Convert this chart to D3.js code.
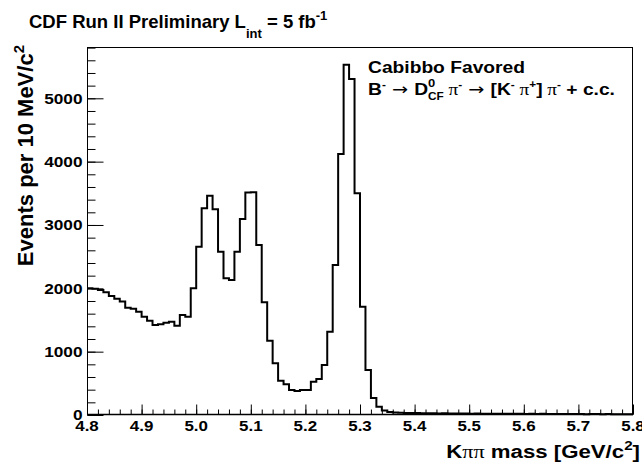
<!DOCTYPE html>
<html><head><meta charset="utf-8">
<script src="https://cdn.jsdelivr.net/npm/d3@7"></script>
<style>
html,body{margin:0;padding:0;background:#fff;}
svg{display:block;}
text{font-family:"Liberation Sans",Arial,Helvetica,sans-serif;font-weight:bold;fill:#000;}
.sym{font-family:"Liberation Serif","DejaVu Serif",serif;font-weight:normal;}
.arr{font-family:"DejaVu Sans",sans-serif;font-weight:normal;}
</style></head>
<body>
<script>
// ---- data ----
const massStart = 4.8;      // GeV/c^2, lower edge of first bin
const binWidth = 0.01;      // 10 MeV/c^2
const counts = [
  2000,1992,1974,1937,1879,1837,1790,1695,1679,1632,
  1553,1490,1421,1432,1458,1474,1411,1579,1553,2000,
  2658,3263,3463,3248,2579,2158,2132,2579,3095,3511,
  3516,2684,1779,1174,816,542,484,395,379,395,
  395,526,568,790,1316,2368,4121,5530,5305,3500,
  1711,711,270,131,70,46,40,35,33,31,
  30,28,29,26,25,27,24,23,25,22,
  21,23,20,21,19,20,18,21,19,18,
  17,19,16,18,17,15,17,16,14,16,
  15,13,15,14,13,14,12,13,12,11
];
const xTickLabels = [4.8,4.9,5.0,5.1,5.2,5.3,5.4,5.5,5.6,5.7,5.8];
const yTickLabels = [0,1000,2000,3000,4000,5000];
const xDomain = [4.8,5.8];
const yDomain = [0,5810];

// ---- drawing ----
const W=642,H=464;
const svg=d3.select("body").append("svg").attr("width",W).attr("height",H);
svg.append("rect").attr("width",W).attr("height",H).attr("fill","#fff");

const x=d3.scaleLinear().domain(xDomain).range([87,633]);
const y=d3.scaleLinear().domain(yDomain).range([415,47]);

// frame
svg.append("rect").attr("x",x(xDomain[0])+0.5).attr("y",y(yDomain[1])+0.5)
  .attr("width",x(xDomain[1])-x(xDomain[0])-1).attr("height",y(0)-y(yDomain[1])-1)
  .attr("fill","none").attr("stroke","#000").attr("stroke-width",1);

// ticks
const xMinor=d3.range(0,51).map(i=>+(xDomain[0]+i*0.02).toFixed(2));
const yMinor=d3.range(0,30).map(i=>i*200).filter(v=>v<=yDomain[1]);
function tickAxis(axis,vals,size,tr){
  const g=svg.append("g").attr("transform",tr)
    .call(axis.tickValues(vals).tickSize(size).tickFormat(""));
  g.select(".domain").remove();
  g.selectAll("line").attr("stroke","#000").attr("stroke-width",1);
}
tickAxis(d3.axisBottom(x),xMinor,-5,"translate(0,414.5)");
tickAxis(d3.axisBottom(x),xTickLabels,-10,"translate(0,414.5)");
tickAxis(d3.axisLeft(y),yMinor,-8,"translate(87.5,0)");
tickAxis(d3.axisLeft(y),yTickLabels,-16,"translate(87.5,0)");

// x axis line
svg.append("line").attr("x1",x(xDomain[0])).attr("x2",x(xDomain[1]))
  .attr("y1",414.5).attr("y2",414.5).attr("stroke","#000").attr("stroke-width",1.5);

// histogram
const pts=counts.map((c,i)=>[massStart+i*binWidth,c]);
pts.push([massStart+counts.length*binWidth,counts[counts.length-1]]);
const line=d3.line().x(d=>x(d[0])).y(d=>y(d[1])).curve(d3.curveStepAfter);
svg.append("path").attr("d",line(pts)).attr("fill","none")
  .attr("stroke","#000").attr("stroke-width",2).attr("stroke-linejoin","miter");

// helper for scaled text
function stext(tx,ty,size,sx,anchor){
  return svg.append("g").attr("transform",`translate(${tx},${ty}) scale(${sx},1)`)
    .append("text").attr("font-size",size).attr("text-anchor",anchor||"start");
}

// tick labels
xTickLabels.forEach(v=>{
  stext(x(v),431,15,1.13,"middle").text(v.toFixed(1));
});
yTickLabels.forEach(v=>{
  stext(82.5,y(v)+5.3,15,1.15,"end").text(v);
});

// title
const t=stext(29,28,18.5,1.0,"start");
t.append("tspan").text("CDF Run II Preliminary L");
t.append("tspan").attr("font-size",13).attr("dy",10).text("int");
t.append("tspan").attr("dy",-10).text(" = 5 fb");
t.append("tspan").attr("font-size",13).attr("dy",-8).text("-1");

// y label
const yl=svg.append("g").attr("transform","translate(33,45) rotate(-90)")
  .append("text").attr("font-size",22).attr("text-anchor","end");
yl.append("tspan").text("Events per 10 MeV/c");
yl.append("tspan").attr("font-size",15).attr("dy",-9).text("2");

// x label
const xl=stext(640,458,19,1.17,"end");
xl.append("tspan").text("K");
xl.append("tspan").attr("class","sym").text("ππ");
xl.append("tspan").text(" mass [GeV/c");
xl.append("tspan").attr("font-size",13).attr("dy",-8).text("2");
xl.append("tspan").attr("dy",8).text("]");

// legend
stext(368,73,16.3,1.18,"start").text("Cabibbo Favored");
const lg=stext(368,95,16.3,1.18,"start");
lg.append("tspan").text("B");
lg.append("tspan").attr("font-size",10).attr("dy",-7).text("-");
lg.append("tspan").attr("class","arr").attr("dy",7).text(" \u2192 ");
lg.append("tspan").text("D");
lg.append("tspan").attr("font-size",11).attr("dy",-8).text("0");
lg.append("tspan").attr("font-size",10).attr("dx",-6.1).attr("dy",13).text("CF");
lg.append("tspan").attr("class","sym").attr("dy",-5).text(" \u03c0");
lg.append("tspan").attr("font-size",10).attr("dy",-7).text("-");
lg.append("tspan").attr("class","arr").attr("dy",7).text(" \u2192 ");
lg.append("tspan").text("[K");
lg.append("tspan").attr("font-size",10).attr("dy",-7).text("-");
lg.append("tspan").attr("class","sym").attr("dy",7).text(" \u03c0");
lg.append("tspan").attr("font-size",10).attr("dy",-7).text("+");
lg.append("tspan").attr("dy",7).text("]");
lg.append("tspan").attr("class","sym").text(" \u03c0");
lg.append("tspan").attr("font-size",10).attr("dy",-7).text("-");
lg.append("tspan").attr("dy",7).text(" + c.c.");
</script>
</body></html>
